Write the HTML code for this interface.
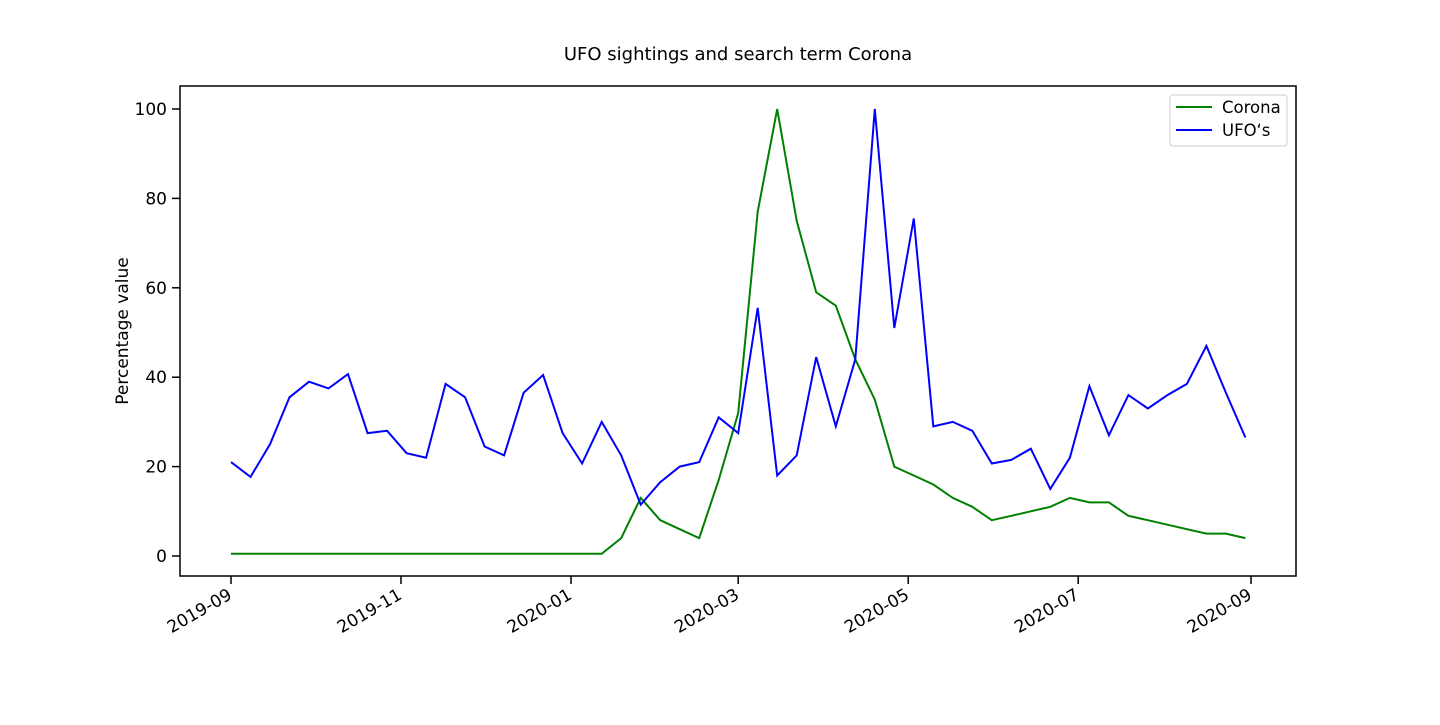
<!DOCTYPE html>
<html><head><meta charset="utf-8"><style>
body{margin:0;background:#fff;}
svg{font-family:"DejaVu Sans","Liberation Sans",sans-serif;}
</style></head><body>
<svg id="chart" width="1440" height="720"></svg>
<script>
const startDate = "2019-09-01";
const corona = [0.5,0.5,0.5,0.5,0.5,0.5,0.5,0.5,0.5,0.5,0.5,0.5,0.5,0.5,0.5,0.5,0.5,0.5,0.5,0.5,
4,13,8,6,4,17,32,77,100,75,59,56,44,35,20,18,16,13,11,8,9,10,11,13,12,12,9,8,7,6,5,5,4];
const ufos = [21,17.7,25,35.5,39,37.5,40.7,27.5,28,23,22,38.5,35.5,24.5,22.5,36.5,40.5,27.5,20.7,30,
22.5,11.5,16.5,20,21,31,27.5,55.5,18,22.5,44.5,29,44,100,51,75.5,29,30,28,20.7,21.5,24,15,22,38,27,36,33,36,38.5,47,36.5,26.5];
const yTicks = [0,20,40,60,80,100];
const xTickLabels = ["2019-09","2019-11","2020-01","2020-03","2020-05","2020-07","2020-09"];

const NS="http://www.w3.org/2000/svg";
const svg=document.getElementById('chart');
const L=180,R=1296,T=86,B=576;
const t0=Date.UTC(2019,8,1), t1=Date.UTC(2020,8,1);
const xPx=ms=>231+(ms-t0)/(t1-t0)*1020;
const yPx=v=>556-v*4.47;
function el(tag,attrs,parent){const e=document.createElementNS(NS,tag);for(const k in attrs)e.setAttribute(k,attrs[k]);(parent||svg).appendChild(e);return e;}

const frame=el('rect',{x:L,y:T,width:R-L,height:B-T,fill:'none',stroke:'#000','stroke-width':1.5});



const title=el('text',{x:738,y:60,'text-anchor':'middle','font-size':18});
title.textContent='UFO sightings and search term Corona';



const yl=el('text',{x:128,y:331,'text-anchor':'middle','font-size':17,transform:'rotate(-90 128 331)'});
yl.textContent='Percentage value';



yTicks.forEach(v=>{
  const y=yPx(v);
  const tk=el('line',{x1:L-8,x2:L,y1:y,y2:y,stroke:'#000','stroke-width':1.5});
  
  
  const tx=el('text',{x:L-13,y:y+6,'text-anchor':'end','font-size':17});
  tx.textContent=v;
  
  
});
xTickLabels.forEach(s=>{
  const [yy,mm]=s.split('-').map(Number);
  const x=xPx(Date.UTC(yy,mm-1,1));
  const tk=el('line',{x1:x,x2:x,y1:B,y2:B+8,stroke:'#000','stroke-width':1.5});
  
  
  const tx=el('text',{x:x+2,y:B+22,'text-anchor':'end','font-size':17,transform:`rotate(-30 ${x+2} ${B+22})`});
  tx.textContent=s;
  
  
});
const s0=Date.UTC(2019,8,1);
function pts(arr){return arr.map((v,i)=>`${xPx(s0+i*7*86400000).toFixed(1)},${yPx(v).toFixed(1)}`).join(' ');}
const lc=el('polyline',{points:pts(corona),fill:'none',stroke:'#008000','stroke-width':2});


const lu=el('polyline',{points:pts(ufos),fill:'none',stroke:'#0000ff','stroke-width':2});



const lg=el('g',{});


el('rect',{x:1170,y:95,width:117,height:51,rx:3,fill:'#fff',stroke:'#ccc'},lg);
el('line',{x1:1176,x2:1212,y1:107,y2:107,stroke:'#008000','stroke-width':2},lg);
el('line',{x1:1176,x2:1212,y1:130,y2:130,stroke:'#0000ff','stroke-width':2},lg);
const t1e=el('text',{x:1222,y:113,'font-size':16.5},lg);t1e.textContent='Corona';


const t2e=el('text',{x:1222,y:136,'font-size':16.5},lg);t2e.textContent='UFO‘s';


</script>
</body></html>
